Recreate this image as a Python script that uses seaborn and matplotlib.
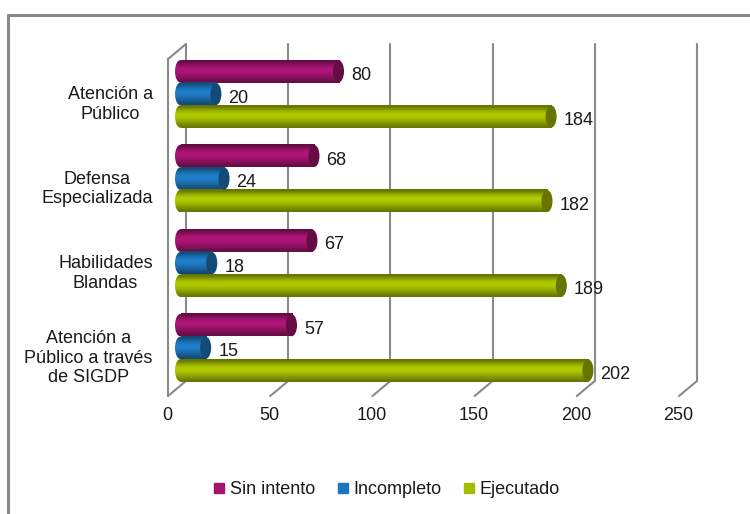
import numpy as np
import pandas as pd
import matplotlib
matplotlib.use("Agg")
import matplotlib.pyplot as plt
import matplotlib.transforms as mtransforms
from matplotlib.patches import Ellipse
from matplotlib.lines import Line2D
import matplotlib.colors as mcolors
import seaborn as sns

categories = ["Atención a\nPúblico", "Defensa\nEspecializada", "Habilidades\nBlandas",
              "Atención a\nPúblico a través\nde SIGDP"]
series_names = ["Sin intento", "Incompleto", "Ejecutado"]
sin_intento = [80, 68, 67, 57]
incompleto = [20, 24, 18, 15]
ejecutado = [184, 182, 189, 202]
x_ticks = [0, 50, 100, 150, 200, 250]
colors = ["#A3146F", "#1E77BE", "#A5BD00"]

df = pd.DataFrame({
    "categoria": categories * 3,
    "serie": np.repeat(series_names, len(categories)),
    "valor": sin_intento + incompleto + ejecutado,
})

sns.set_style("white")
plt.rcParams["font.family"] = ["Liberation Sans", "DejaVu Sans"]
TXT = "#1a1a1a"
FS = 13

DPI = 100
fig = plt.figure(figsize=(7.5, 5.14), dpi=DPI)
AX_L, AX_R, AX_T, AX_B = 175, 686, 44, 396
ax = fig.add_axes([AX_L / 750, 1 - AX_B / 514, (AX_R - AX_L) / 750, (AX_B - AX_T) / 514])

sns.barplot(data=df, x="valor", y="categoria", hue="serie", order=categories,
            hue_order=series_names, palette=colors, orient="h", width=0.80,
            gap=0, ax=ax, legend=False, errorbar=None, saturation=1)

YLIM = (3.57, -0.59)
ax.set_xlim(0, 250)
ax.set_ylim(*YLIM)
ax.set_xlabel("")
ax.set_ylabel("")
ax.set_xticks(x_ticks)
ax.tick_params(axis="x", length=0, pad=8, labelsize=FS, labelcolor=TXT)
ax.tick_params(axis="y", length=0, pad=16, labelsize=FS, labelcolor=TXT)
for s in ax.spines.values():
    s.set_visible(False)
ax.grid(False)


def px(dx, dy):
    return mtransforms.ScaledTranslation(dx / DPI, dy / DPI, fig.dpi_scale_trans)


# tick labels sit on the front plane of the 3D box
for tk in ax.xaxis.get_major_ticks():
    tk.label1.set_transform(tk.label1.get_transform() + px(-8, 0))
for tk in ax.yaxis.get_major_ticks():
    tk.label1.set_transform(tk.label1.get_transform() + px(0, -7))
    tk.label1.set_multialignment("center")

# 3D-like walls and gridlines
gcol = "#8a8a8a"
blend = mtransforms.blended_transform_factory(ax.transData, ax.transAxes)
FRONT_DX, BACK_DX, DEPTH_DY = -7, 11, 15
for t in x_ticks:
    ax.plot([t, t], [DEPTH_DY / (AX_B - AX_T), 1.0], transform=blend + px(BACK_DX, 0),
            color=gcol, lw=1.5, zorder=0.5, clip_on=False)
    base_pt = mtransforms.Affine2D().translate(*blend.transform((t, 0)))
    ax.plot([FRONT_DX, BACK_DX], [0, DEPTH_DY], transform=base_pt, color=gcol, lw=1.5,
            clip_on=False, zorder=0.5)
top_front = 1 - DEPTH_DY / (AX_B - AX_T)
ax.plot([0, 0], [0, top_front], transform=blend + px(FRONT_DX, 0), color=gcol, lw=1.5,
        clip_on=False, zorder=0.5)
ax.plot([FRONT_DX, BACK_DX], [0, DEPTH_DY],
        transform=mtransforms.Affine2D().translate(*blend.transform((0, top_front))),
        color=gcol, lw=1.5, clip_on=False, zorder=0.5)

# cylinder shading
shade = np.array([0.60, 0.82, 1.02, 1.10, 1.02, 0.90, 0.78, 0.62])
px_per_unit = (AX_R - AX_L) / 250
cap_w = 11 / px_per_unit
for cont in ax.containers:
    for p in cont.patches:
        base = np.array(mcolors.to_rgb(p.get_facecolor()))
        img = np.clip(base[None, None, :] * shade[:, None, None], 0, 1)
        x0, y0, w, h = p.get_x(), p.get_y(), p.get_width(), p.get_height()
        p.set_facecolor("none")
        p.set_edgecolor("none")
        ax.imshow(img, extent=(x0 + cap_w / 2, x0 + w, y0 + h, y0), aspect="auto",
                  interpolation="bicubic", zorder=2)
        # rounded left end
        lcap = Ellipse((x0 + cap_w / 2, y0 + h / 2), cap_w, h, facecolor="none",
                       edgecolor="none")
        ax.add_patch(lcap)
        im2 = ax.imshow(img, extent=(x0, x0 + cap_w / 2, y0 + h, y0), aspect="auto",
                        interpolation="bicubic", zorder=2)
        im2.set_clip_path(lcap)
        # right end cap
        ax.add_patch(Ellipse((x0 + w, y0 + h / 2), cap_w, h * 0.98,
                             facecolor=base * 0.62, edgecolor="none", zorder=3))
    anns = ax.bar_label(cont, padding=9, fontsize=FS, color=TXT)
    for a in anns:
        a.xyann = (a.xyann[0], -3)

ax.set_xlim(0, 250)
ax.set_ylim(*YLIM)

# legend
handles = [Line2D([], [], marker="s", linestyle="none", markersize=6.5,
                  markerfacecolor=c, markeredgecolor=c) for c in colors]
fig.legend(handles, series_names, loc="center", bbox_to_anchor=(386 / 750, 1 - 490 / 514),
           ncol=3, frameon=False, fontsize=FS, handletextpad=0.2, columnspacing=1.1,
           handlelength=0.8, labelcolor=TXT)

# outer frame (top and left)
fig.add_artist(Line2D([8 / 750, 1], [1 - 15 / 514, 1 - 15 / 514], transform=fig.transFigure,
                      color="#888888", lw=2.2))
fig.add_artist(Line2D([8 / 750, 8 / 750], [0, 1 - 15 / 514], transform=fig.transFigure,
                      color="#888888", lw=2.2))

fig.savefig("out.png", dpi=DPI)
